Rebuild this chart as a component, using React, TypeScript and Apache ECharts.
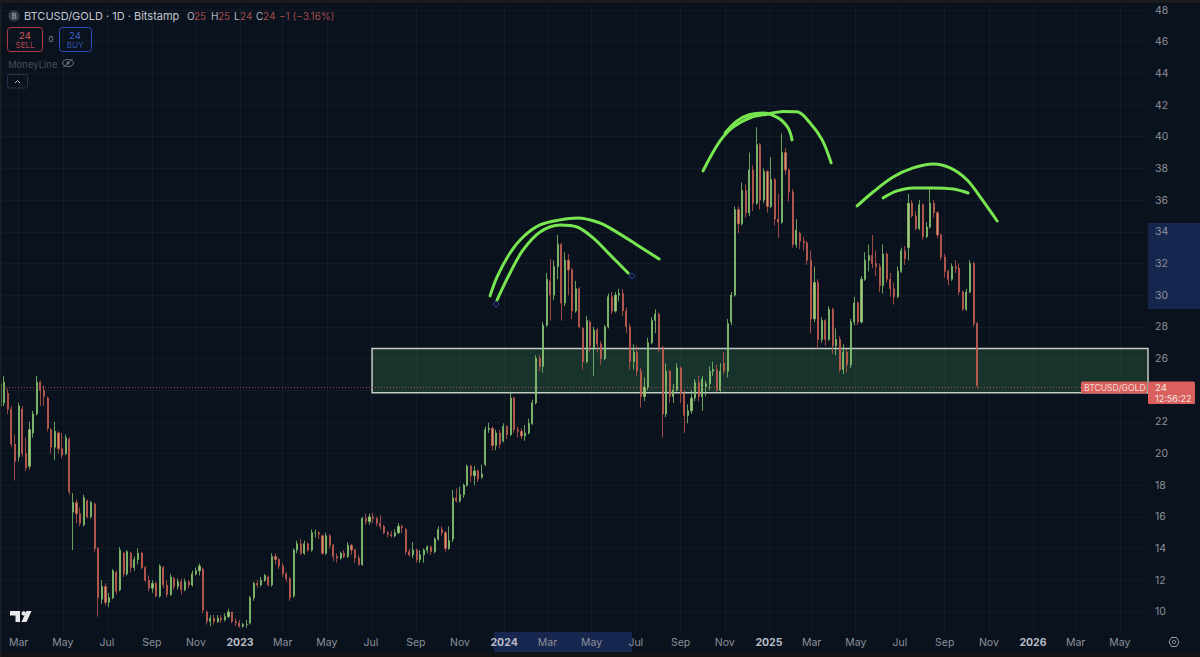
import React, { useEffect, useRef } from "react";
import * as echarts from "echarts";

// Every row is [open, close, low, high], one bar per five days
const barsA: number[][] = [
  [23.0,24.4,22.9,24.6],[23.2,24.5,23.0,24.9],[23.8,22.8,22.5,24.1],[22.8,20.6,20.4,23.0],[20.6,19.5,18.3,21.2],[19.8,23.0,19.5,23.2],
  [22.8,20.0,19.8,23.0],[20.0,19.1,18.9,21.0],[19.2,21.5,19.0,22.0],[21.3,22.5,21.0,22.7],[22.5,24.5,22.4,24.9],[24.5,24.0,23.0,24.6],
  [24.0,23.6,23.0,24.3],[23.5,21.6,21.4,23.6],[21.5,20.4,20.0,21.6],[20.4,21.4,19.6,22.0],[21.3,20.3,20.0,21.4],[20.3,19.9,19.7,21.3],
  [20.0,21.0,19.9,21.2],[20.9,17.6,17.4,21.0],[16.3,16.9,13.9,17.5],[16.9,16.2,15.6,17.1],[16.2,15.6,15.4,16.6],[15.5,17.2,15.4,17.4],
  [17.0,16.0,15.9,17.1],[16.0,16.9,15.9,17.0],[16.8,14.0,13.8,16.9],[14.0,10.9,9.7,14.1],[10.8,11.6,10.5,12.0],[11.6,10.6,10.4,11.8],
  [10.6,10.9,10.3,11.2],[10.9,12.6,10.8,12.7],[12.5,11.3,11.1,12.6],[11.4,13.9,11.3,14.1],[13.7,12.4,12.2,13.8],[12.4,13.8,12.3,13.9],
  [13.7,12.8,12.5,13.8],[12.8,13.3,12.6,13.5],[13.3,13.7,13.0,14.0],[13.7,12.8,12.7,13.8],[12.8,12.0,11.9,12.9],[12.0,11.5,11.3,12.3],
  [11.5,11.8,11.2,12.0],[11.8,11.0,10.9,11.9],[11.0,12.9,10.9,13.0],[12.8,11.7,11.5,12.9],[11.7,11.1,10.9,12.0],[11.1,12.2,11.0,12.4],
  [12.1,11.6,11.4,12.2],[11.6,11.9,11.4,12.1],[11.9,11.4,11.1,12.1],[11.4,11.9,11.3,12.1],[11.9,11.7,11.5,12.0],[11.7,12.4,11.6,12.6],
  [12.4,12.6,12.3,12.8],[12.6,12.9,12.3,13.05],[12.7,10.1,9.9,12.8],[10.0,9.4,9.2,10.1],[9.4,9.6,9.1,9.8],[9.6,9.4,9.2,9.8],
  [9.4,9.6,9.3,9.8],[9.6,9.5,9.3,9.8],[9.5,9.7,9.4,9.9],[9.7,10.0,9.6,10.2],[10.0,9.4,9.3,10.0],[9.4,9.3,9.1,9.6],[9.3,9.1,9.0,9.5],
];
const barsB: number[][] = [
  [9.1,9.2,9.0,9.3],[9.2,9.2,9.0,9.5],[9.3,10.9,9.2,11.0],[10.9,11.8,10.7,11.9],[11.8,11.7,11.5,12.0],[11.7,12.0,11.6,12.2],
  [12.0,12.3,11.9,12.4],[12.2,11.7,11.6,12.3],[11.7,13.5,11.6,13.7],[13.5,13.3,13.0,13.7],[13.3,12.9,12.7,13.4],[12.9,12.4,12.2,13.1],
  [12.4,12.1,11.9,12.5],[12.1,10.9,10.7,12.2],[11.0,13.9,10.9,14.0],[13.9,14.3,13.7,14.5],[14.3,13.7,13.6,14.6],[13.7,14.3,13.6,14.5],
  [14.3,13.9,13.8,14.4],[13.9,15.0,13.8,15.2],[15.0,15.0,14.7,15.2],[15.0,14.9,14.6,15.1],[14.8,13.7,13.6,14.9],[13.7,14.8,13.6,15.0],
  [14.8,14.2,14.0,14.9],[14.2,13.5,13.2,14.3],[13.5,13.4,13.1,13.7],[13.4,13.7,13.3,13.8],[13.7,13.5,13.4,13.9],[13.5,14.2,13.4,14.4],
  [14.2,13.9,13.6,14.3],[13.9,13.4,13.1,14.0],[13.4,13.0,12.9,13.6],[13.0,15.9,12.9,16.0],[15.9,15.7,15.5,16.2],[15.7,16.0,15.5,16.2],
  [16.0,15.9,15.6,16.25],[15.9,15.6,15.4,16.0],[15.6,15.4,15.2,16.1],[15.4,15.0,14.9,15.5],[15.0,14.9,14.7,15.1],[14.9,14.8,14.7,15.1],
  [14.8,15.0,14.7,15.2],[15.0,15.4,14.9,15.6],[15.4,15.3,15.0,15.5],[15.2,13.8,13.6,15.3],[13.8,13.6,13.5,14.0],[13.6,13.9,13.4,14.4],
  [13.9,13.3,13.1,14.0],[13.3,13.6,13.1,13.9],[13.6,13.9,13.1,14.0],[13.9,14.1,13.7,14.2],[14.1,13.8,13.6,14.2],[13.8,14.6,13.7,14.7],
  [14.6,15.2,14.5,15.4],[15.2,15.0,14.8,15.4],[15.0,14.0,13.8,15.1],[14.0,14.5,13.9,15.4],[14.6,17.2,14.4,17.7],[17.2,17.0,16.9,17.8],
  [17.0,17.4,16.9,17.9],[17.4,18.0,17.2,18.1],[18.0,19.2,17.9,19.3],[19.2,18.6,18.2,19.3],[18.6,18.9,18.0,19.2],[18.9,18.4,18.2,19.0],
  [18.5,18.7,18.4,19.3],[19.3,21.5,19.2,21.7],[21.5,21.6,21.3,21.95],[21.6,20.5,20.2,21.7],[20.5,21.3,20.2,21.5],[21.3,20.6,20.3,21.5],
];
const barsC: number[][] = [
  [20.8,21.7,20.7,21.9],[21.7,21.2,20.9,21.8],[21.2,23.5,21.1,23.9],[23.5,21.5,21.3,23.6],[21.5,21.4,21.0,21.7],[21.4,21.1,20.9,21.6],
  [21.1,21.3,20.8,21.8],[21.3,21.9,21.2,22.2],[21.9,23.2,21.8,23.4],[23.2,26.0,23.1,26.2],[26.0,25.5,25.2,26.2],[25.5,28.1,25.1,28.3],
  [28.1,31.0,28.0,31.4],[30.9,30.0,28.4,32.3],[30.0,31.8,29.7,32.2],[31.8,33.2,31.0,33.8],[33.2,29.5,28.4,33.3],[29.5,32.2,29.3,32.7],
  [32.2,31.6,30.0,32.6],[31.6,29.0,28.5,31.7],[29.0,30.4,28.9,30.9],[30.4,28.0,27.9,30.5],[27.9,25.8,25.3,28.0],[25.8,28.4,25.7,28.7],
  [28.3,26.8,26.4,28.4],[26.7,27.8,24.9,28.0],[27.8,26.9,26.4,27.9],[26.9,26.0,25.6,27.1],[26.0,28.0,25.9,28.1],[28.0,29.9,27.9,30.1],
  [29.9,29.0,28.8,30.2],[29.0,30.0,28.9,30.2],[30.0,30.1,29.6,30.4],[30.1,29.0,28.7,30.4],[29.0,28.0,27.6,29.2],[28.0,25.8,25.3,28.2],
  [25.8,26.4,25.3,26.9],[26.4,25.2,24.9,26.8],[25.2,23.6,22.9,25.4],[23.6,24.2,23.3,24.8],[24.2,27.0,24.0,27.3],[27.0,28.4,26.9,28.6],
  [28.4,28.8,27.6,29.1],[28.8,26.7,26.4,28.9],[26.7,22.5,21.0,26.8],[22.5,25.2,22.3,25.7],[25.2,23.6,23.2,25.3],[23.6,24.0,23.2,24.4],
  [24.0,25.4,23.9,25.7],[25.4,23.8,23.2,25.5],[23.8,22.4,21.3,24.0],[22.4,22.7,21.9,23.1],[22.7,23.5,22.5,24.0],[23.5,24.5,23.3,24.7],
  [24.5,23.6,23.3,24.9],[23.6,24.7,22.7,24.9],[24.2,24.4,23.6,24.6],[24.4,25.2,24.0,25.5],[25.2,25.3,24.9,25.8],[25.3,24.0,23.9,25.6],
  [24.0,25.2,23.9,25.7],[25.7,25.2,25.0,26.4],
];
const barsD: number[][] = [
  [25.2,28.2,24.8,28.5],[28.3,30.0,28.1,30.2],[30.0,35.4,29.9,35.6],[35.4,34.5,33.9,35.6],[34.5,36.6,34.4,37.1],[36.6,35.2,34.9,37.0],
  [35.2,37.9,35.0,39.0],[37.9,35.8,35.3,38.2],[35.8,39.5,35.7,40.6],[39.5,36.0,35.4,39.6],[36.0,37.8,35.8,38.0],[37.8,35.6,35.2,37.9],
  [35.6,37.3,35.5,38.7],[37.3,34.8,34.4,37.4],[34.8,34.6,33.6,36.4],[34.6,39.0,34.5,40.2],[39.0,37.9,37.6,39.3],[37.9,36.5,35.9,38.0],
  [36.5,33.2,33.0,36.7],[33.2,34.1,33.0,34.8],[33.9,33.4,32.9,34.0],[33.4,33.3,32.8,33.7],[33.3,32.2,31.9,33.4],[32.2,28.5,27.6,32.8],
  [28.5,30.8,28.3,31.8],[30.8,27.2,26.6,31.0],[27.2,28.4,27.0,28.6],[28.4,27.2,26.8,28.5],[27.2,29.1,27.1,29.3],[29.1,26.8,26.3,29.2],
  [26.8,27.2,26.2,27.9],[27.2,25.3,25.1,27.4],[25.3,26.4,25.0,26.9],[26.4,25.6,25.1,26.6],[25.6,28.3,25.4,28.5],[28.3,29.5,28.1,29.9],
  [29.5,28.3,28.1,29.6],[28.3,31.0,28.2,31.2],[31.0,32.2,30.9,32.7],[32.2,32.5,31.5,33.2],[32.5,32.0,31.7,33.8],[32.0,31.8,31.2,32.8],
  [31.8,30.6,30.2,32.0],[30.6,32.6,30.1,33.2],[32.6,31.0,30.8,32.7],[31.0,30.4,29.9,31.4],[30.4,29.9,29.4,30.8],[29.9,31.5,29.8,31.8],
  [31.5,32.8,31.4,33.0],[32.8,32.3,31.9,33.1],[33.0,35.8,32.2,36.4],[35.8,35.0,34.9,36.0],[35.0,34.2,34.1,35.3],[34.2,35.7,34.1,36.0],
  [35.7,33.7,33.5,35.8],[33.7,34.3,33.6,34.6],[34.3,35.8,34.2,36.7],[35.8,35.2,34.9,36.0],[35.2,33.8,33.6,35.3],[33.8,32.4,32.2,33.9],
  [32.4,31.5,31.1,32.6],[31.5,31.0,30.6,31.6],[31.0,31.8,30.9,32.0],[31.8,31.7,31.4,32.2],[31.7,30.2,30.0,32.0],[30.2,29.1,29.0,30.3],
  [29.1,30.2,29.0,30.4],[30.2,32.0,30.1,32.2],[32.0,28.2,28.0,32.1],[28.2,24.3,24.1,28.3],
];

// Hand-drawn strokes: [days since 2023-01-01, price]
const strokeA = [[345.6,29.95],[355.3,31.15],[373.2,32.66],[391.2,33.67],[414.7,34.43],[442.4,34.75],[467,34.87],[497.7,34.55],[515.6,34.12],[548.8,33.17],[579.2,32.28]];
const strokeB = [[355.3,29.7],[373.2,31.4],[391.2,32.85],[414.7,33.99],[442.4,34.43],[465.9,34.3],[488,33.61],[511.5,32.54],[536.4,31.4]];
const strokeC = [[640,37.84],[653.9,39.04],[667.7,39.99],[681.5,40.62],[705,41.2],[729.9,41.44],[750.6,41.6],[770,41.57],[788,40.87],[804.6,39.8],[817,38.35]];
const strokeD = [[670.5,40.24],[687,41.0],[705,41.4],[723,41.5],[743.7,41.19],[757.6,40.55],[763,39.8]];
const strokeE = [[853,35.63],[875,36.51],[902.7,37.46],[930.4,38.03],[958,38.28],[981.5,38.03],[1005,37.27],[1023,36.2],[1046.5,34.68]];
const strokeF = [[888.9,36.14],[908.2,36.58],[930.4,36.77],[958,36.77],[985.7,36.7],[1006.4,36.45]];
const anchorDots = [[353.9,29.44],[541.9,31.21]];

const zoneTop = 26.63;
const zoneBottom = 23.83;
const zoneStart = 182.5;
const lastPrice = 24.18;

const xTickDates = ["2022-03-01","2022-05-01","2022-07-01","2022-09-01","2022-11-01","2023-01-01","2023-03-01","2023-05-01","2023-07-01","2023-09-01","2023-11-01","2024-01-01","2024-03-01","2024-05-01","2024-07-01","2024-09-01","2024-11-01","2025-01-01","2025-03-01","2025-05-01","2025-07-01","2025-09-01","2025-11-01","2026-01-01","2026-03-01","2026-05-01"];
const xTickLabels = ["Mar","May","Jul","Sep","Nov","2023","Mar","May","Jul","Sep","Nov","2024","Mar","May","Jul","Sep","Nov","2025","Mar","May","Jul","Sep","Nov","2026","Mar","May"];
const yTicks = [10,12,14,16,18,20,22,24,26,28,30,32,34,36,38,40,42,44,46,48];

const FONT = "Inter, 'Noto Sans', sans-serif";
const dayOf = (s: string) => (Date.parse(s + "T00:00:00Z") - Date.UTC(2023, 0, 1)) / 864e5;
const xDays = xTickDates.map(dayOf);
const FIRST_BAR_DAY = -331;
const BAR_STEP = 5;

function txt(text: string, x: number, y: number, fill: string, size = 10.5, extra: any = {}) {
  return { type: "text", x, y, z: 8, silent: true, style: { text, fill, font: `${extra.weight || 400} ${size}px ${FONT}`, textAlign: extra.align || "left", textVerticalAlign: "middle" } };
}

export default function App() {
  const ref = useRef<HTMLDivElement>(null);
  useEffect(() => {
    const chart = echarts.init(ref.current!, undefined, { renderer: "svg" });
    const allBars = [...barsA, ...barsB, ...barsC, ...barsD];
    const candles = allBars.map((r, i) => [FIRST_BAR_DAY + i * BAR_STEP, r[0], r[1], r[2], r[3]]);
    const strokeSeries = [strokeA, strokeB, strokeC, strokeD, strokeE, strokeF].map((s) => ({
      type: "line", data: s, smooth: 0.35, symbol: "none", z: 5, silent: true,
      lineStyle: { color: "#78e650", width: 3, cap: "round", join: "round" },
    }));
    const red = "#cf5f5c", blue = "#3f63cf";
    chart.setOption({
      animation: false,
      backgroundColor: "#0a121e",
      grid: { left: 0, top: 4, width: 1148, height: 628, containLabel: false },
      xAxis: {
        type: "value", min: -331.8, max: 1255,
        axisLine: { show: false },
        axisTick: { show: false, customValues: xDays },
        splitLine: { show: true, lineStyle: { color: "rgba(150,170,200,0.05)", width: 1 } },
        axisLabel: {
          customValues: xDays, margin: 5, color: "#8b909a", fontFamily: FONT, fontSize: 10.5, hideOverlap: false,
          formatter: (v: number) => {
            const idx = xDays.findIndex((d) => Math.abs(d - v) < 0.01);
            const s = idx >= 0 ? xTickLabels[idx] : "";
            return /^\d{4}$/.test(s) ? `{b|${s}}` : s;
          },
          rich: { b: { color: "#b9bdc6", fontWeight: 700, fontFamily: FONT, fontSize: 10.5 } },
        },
      },
      yAxis: {
        type: "value", position: "right", min: 8.73, max: 48.38, scale: true,
        axisLine: { show: false },
        axisTick: { show: false, customValues: yTicks },
        splitLine: { show: true, lineStyle: { color: "rgba(150,170,200,0.05)", width: 1 } },
        axisLabel: {
          customValues: yTicks, margin: 7, color: "#8b909a", fontFamily: FONT, fontSize: 10.5, align: "left",
          formatter: (v: number) => (v === 24 ? "" : String(v)),
        },
      },
      series: [
        {
          type: "candlestick", data: candles, barWidth: 1.6, z: 3, silent: true,
          itemStyle: { color: "#b5c27a", color0: "#c9a26c", borderColor: "#7fc46f", borderColor0: "#c4554f", borderWidth: 0.8 },
          markArea: {
            silent: true, z: 2,
            itemStyle: { color: "rgba(60,130,80,0.30)", borderColor: "#c4cac4", borderWidth: 1.5 },
            data: [[{ xAxis: zoneStart, yAxis: zoneTop }, { xAxis: 1255, yAxis: zoneBottom }]],
          },
          markLine: {
            silent: true, symbol: "none", label: { show: false }, animation: false,
            lineStyle: { color: "#b0524f", type: [1, 2], width: 1, opacity: 0.9 },
            data: [{ yAxis: lastPrice }],
          },
        },
        ...strokeSeries,
        {
          type: "scatter", data: anchorDots, symbol: "circle", symbolSize: 5, z: 6, silent: true,
          itemStyle: { color: "rgba(0,0,0,0)", borderColor: "#3550c0", borderWidth: 1 },
        },
      ],
      graphic: {
        elements: [
          // highlighted axis ranges
          { type: "rect", z: -1, silent: true, shape: { x: 1148, y: 223, width: 52, height: 86 }, style: { fill: "#16264f" } },
          { type: "rect", z: -1, silent: true, shape: { x: 494, y: 632, width: 138, height: 20 }, style: { fill: "#16264f" } },
          // frame
          { type: "rect", z: 9, silent: true, shape: { x: 0, y: 0, width: 1200, height: 3 }, style: { fill: "#1b1b1b" } },
          { type: "rect", z: 9, silent: true, shape: { x: 0, y: 653, width: 1200, height: 4 }, style: { fill: "#131313" } },
          { type: "rect", z: 9, silent: true, shape: { x: 0, y: 0, width: 1.5, height: 657 }, style: { fill: "#1b1d21" } },
          // header
          { type: "circle", z: 8, silent: true, shape: { cx: 14, cy: 16, r: 5.5 }, style: { fill: "#3a3f47" } },
          txt("B", 14, 16, "#8f949c", 7, { align: "center", weight: 700 }),
          txt("BTCUSD/GOLD · 1D · Bitstamp", 24, 16, "#c3c7cf", 11),
          txt("O", 187, 16, "#b5b9c1", 10),
          txt("25", 194, 16, "#a34a4c", 10),
          txt("H", 211, 16, "#b5b9c1", 10),
          txt("25", 218, 16, "#a34a4c", 10),
          txt("L", 234, 16, "#b5b9c1", 10),
          txt("24", 240, 16, "#a34a4c", 10),
          txt("C", 256, 16, "#b5b9c1", 10),
          txt("24", 263, 16, "#a34a4c", 10),
          txt("−1 (−3.16%)", 279, 16, "#a34a4c", 10),
          // sell / buy boxes
          { type: "rect", z: 8, silent: true, shape: { x: 7.5, y: 27.5, width: 35, height: 24, r: 3 }, style: { fill: "transparent", stroke: "#b23c44", lineWidth: 1 } },
          txt("24", 25, 35, red, 9.5, { align: "center" }),
          txt("SELL", 25, 45, "#b8484c", 8, { align: "center" }),
          txt("0", 51, 39, "#8b909a", 8, { align: "center" }),
          { type: "rect", z: 8, silent: true, shape: { x: 59.5, y: 27.5, width: 32, height: 24, r: 3 }, style: { fill: "transparent", stroke: "#2d4fb8", lineWidth: 1 } },
          txt("24", 75, 35, blue, 9.5, { align: "center" }),
          txt("BUY", 75, 45, "#3553b0", 8, { align: "center" }),
          txt("MoneyLine", 8, 64, "#474d58", 9.5),
          { type: "ellipse", z: 8, silent: true, shape: { cx: 68, cy: 63, rx: 5.5, ry: 3.5 }, style: { fill: "transparent", stroke: "#6c717b", lineWidth: 1 } },
          { type: "circle", z: 8, silent: true, shape: { cx: 68, cy: 63, r: 1.5 }, style: { fill: "#6c717b" } },
          { type: "line", z: 8, silent: true, shape: { x1: 63.5, y1: 67, x2: 72.5, y2: 59 }, style: { stroke: "#6c717b", lineWidth: 1 } },
          { type: "rect", z: 8, silent: true, shape: { x: 7.5, y: 74.5, width: 20, height: 13.5, r: 2 }, style: { fill: "transparent", stroke: "#2b3340", lineWidth: 1 } },
          { type: "polyline", z: 8, silent: true, shape: { points: [[15, 83], [17.5, 80.5], [20, 83]] }, style: { fill: "none", stroke: "#b9bdc6", lineWidth: 1 } },
          // logo
          { type: "polygon", z: 8, silent: true, shape: { points: [[10, 611], [20, 611], [20, 622], [15.5, 622], [15.5, 615.5], [10, 615.5]] }, style: { fill: "#e8e9ea" } },
          { type: "circle", z: 8, silent: true, shape: { cx: 23.7, cy: 613.4, r: 2.2 }, style: { fill: "#e8e9ea" } },
          { type: "polygon", z: 8, silent: true, shape: { points: [[26.5, 611], [31.5, 611], [26.5, 622], [21.5, 622]] }, style: { fill: "#e8e9ea" } },
          // price tags
          { type: "rect", z: 8, silent: true, shape: { x: 1081, y: 381.5, width: 66, height: 12, r: 1.5 }, style: { fill: "#d9605c" } },
          txt("BTCUSD/GOLD", 1084, 387.5, "#f3dcda", 8.6),
          { type: "rect", z: 8, silent: true, shape: { x: 1148, y: 381.5, width: 47, height: 22.5, r: 1.5 }, style: { fill: "#d9605c" } },
          txt("24", 1155, 387, "#f5e6e4", 9.5),
          txt("12:56:22", 1155, 398, "#f5e6e4", 9),
          // settings icon
          { type: "polygon", z: 8, silent: true, shape: { points: [[1169, 642], [1171.5, 637.5], [1176.5, 637.5], [1179, 642], [1176.5, 646.5], [1171.5, 646.5]] }, style: { fill: "transparent", stroke: "#9a9ea7", lineWidth: 1 } },
          { type: "circle", z: 8, silent: true, shape: { cx: 1174, cy: 642, r: 1.7 }, style: { fill: "transparent", stroke: "#9a9ea7", lineWidth: 1 } },
        ],
      },
    });
    return () => chart.dispose();
  }, []);
  return <div ref={ref} style={{ position: "fixed", left: 0, top: 0, width: 1200, height: 657 }} />;
}
